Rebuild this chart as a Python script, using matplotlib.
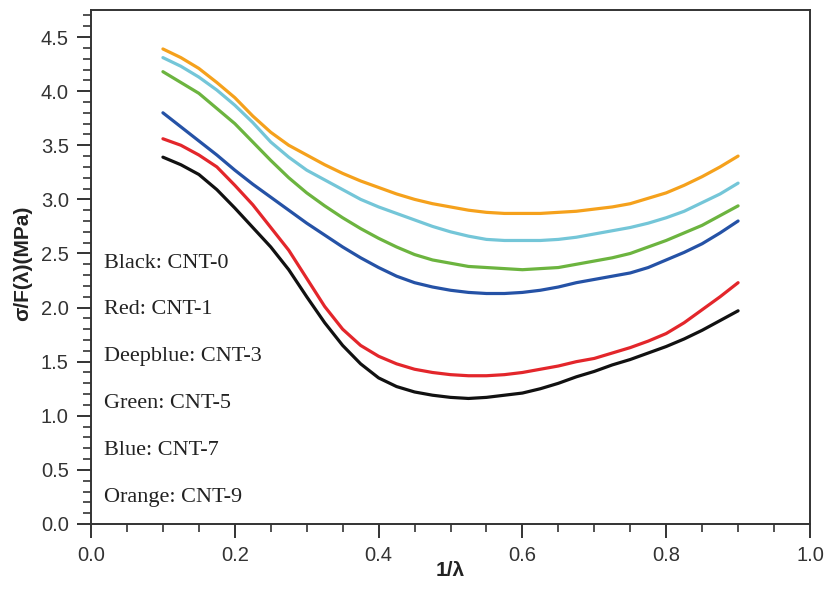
import matplotlib.pyplot as plt
from matplotlib.ticker import MultipleLocator

# 1/lambda sample points shared by all curves (0.1 to 0.9, step 0.025)
inv_lam = [0.100, 0.125, 0.150, 0.175, 0.200, 0.225, 0.250, 0.275, 0.300,
           0.325, 0.350, 0.375, 0.400, 0.425, 0.450, 0.475, 0.500, 0.525,
           0.550, 0.575, 0.600, 0.625, 0.650, 0.675, 0.700, 0.725, 0.750,
           0.775, 0.800, 0.825, 0.850, 0.875, 0.900]

# sigma/F(lambda) in MPa, one list per CNT loading
cnt0 = [3.39, 3.32, 3.23, 3.09, 2.92, 2.74, 2.56, 2.35, 2.10,
        1.86, 1.65, 1.48, 1.35, 1.27, 1.22, 1.19, 1.17, 1.16,
        1.17, 1.19, 1.21, 1.25, 1.30, 1.36, 1.41, 1.47, 1.52,
        1.58, 1.64, 1.71, 1.79, 1.88, 1.97]
cnt1 = [3.56, 3.50, 3.41, 3.30, 3.13, 2.95, 2.74, 2.53, 2.27,
        2.01, 1.80, 1.65, 1.55, 1.48, 1.43, 1.40, 1.38, 1.37,
        1.37, 1.38, 1.40, 1.43, 1.46, 1.50, 1.53, 1.58, 1.63,
        1.69, 1.76, 1.86, 1.98, 2.10, 2.23]
cnt3 = [3.80, 3.67, 3.54, 3.41, 3.27, 3.14, 3.02, 2.90, 2.78,
        2.67, 2.56, 2.46, 2.37, 2.29, 2.23, 2.19, 2.16, 2.14,
        2.13, 2.13, 2.14, 2.16, 2.19, 2.23, 2.26, 2.29, 2.32,
        2.37, 2.44, 2.51, 2.59, 2.69, 2.80]
cnt5 = [4.18, 4.08, 3.98, 3.84, 3.70, 3.53, 3.36, 3.20, 3.06,
        2.94, 2.83, 2.73, 2.64, 2.56, 2.49, 2.44, 2.41, 2.38,
        2.37, 2.36, 2.35, 2.36, 2.37, 2.40, 2.43, 2.46, 2.50,
        2.56, 2.62, 2.69, 2.76, 2.85, 2.94]
cnt7 = [4.31, 4.23, 4.13, 4.01, 3.87, 3.71, 3.53, 3.39, 3.27,
        3.18, 3.09, 3.00, 2.93, 2.87, 2.81, 2.75, 2.70, 2.66,
        2.63, 2.62, 2.62, 2.62, 2.63, 2.65, 2.68, 2.71, 2.74,
        2.78, 2.83, 2.89, 2.97, 3.05, 3.15]
cnt9 = [4.39, 4.31, 4.21, 4.08, 3.94, 3.77, 3.62, 3.50, 3.41,
        3.32, 3.24, 3.17, 3.11, 3.05, 3.00, 2.96, 2.93, 2.90,
        2.88, 2.87, 2.87, 2.87, 2.88, 2.89, 2.91, 2.93, 2.96,
        3.01, 3.06, 3.13, 3.21, 3.30, 3.40]

series = [cnt0, cnt1, cnt3, cnt5, cnt7, cnt9]
colors = ["#111111", "#e3262b", "#2552a6", "#6cb43f", "#74c6d8", "#f5a11c"]
notes = ["Black: CNT-0", "Red: CNT-1", "Deepblue: CNT-3",
         "Green: CNT-5", "Blue: CNT-7", "Orange: CNT-9"]

fig = plt.figure(figsize=(8.26, 5.92), dpi=100)
ax = fig.add_axes([0.1102, 0.1149, 0.8704, 0.8682])

for ys, c in zip(series, colors):
    ax.plot(inv_lam, ys, color=c, lw=2.3, solid_capstyle="round",
            solid_joinstyle="round")

ax.set_xlim(0, 1.0)
ax.set_ylim(0, 4.75)
ax.xaxis.set_major_locator(MultipleLocator(0.2))
ax.xaxis.set_minor_locator(MultipleLocator(0.05))
ax.yaxis.set_major_locator(MultipleLocator(0.5))
ax.yaxis.set_minor_locator(MultipleLocator(0.1))
ax.xaxis.set_major_formatter(lambda v, p: f"{v:.1f}")
ax.yaxis.set_major_formatter(lambda v, p: f"{v:.1f}")

for s in ax.spines.values():
    s.set_linewidth(1.4)
    s.set_color("#333333")
ax.tick_params(which="major", direction="out", length=10, width=1.4,
               color="#333333", labelsize=14.5, labelcolor="#333333", pad=6)
ax.tick_params(which="minor", direction="out", length=6, width=1.2,
               color="#333333")
for lab in ax.get_xticklabels() + ax.get_yticklabels():
    lab.set_family("Liberation Sans")

# colour key written inside the plot
for i, t in enumerate(notes):
    ax.text(0.018, 2.37 - i * 0.434, t, family="Liberation Serif",
            fontsize=16, color="#222222", va="baseline", ha="left")

fig.text(0.5455, 0.020, "1/\u03bb", family="Liberation Sans",
         fontweight="bold", fontsize=15, ha="center", va="bottom",
         color="#222222")
fig.text(0.027, 0.555, "\u03c3/F(\u03bb)(MPa)", family="Liberation Sans",
         fontweight="bold", fontsize=15, rotation=90, ha="center",
         va="center", color="#222222")

fig.savefig("out.png", dpi=100, facecolor="white")
